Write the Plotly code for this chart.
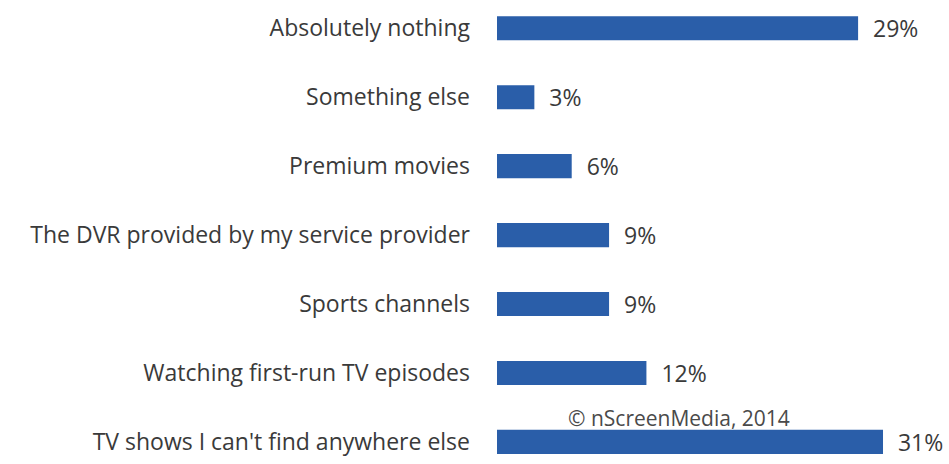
import plotly.graph_objects as go

# Survey answers, listed top to bottom
categories = [
    "Absolutely nothing",
    "Something else",
    "Premium movies",
    "The DVR provided by my service provider",
    "Sports channels",
    "Watching first-run TV episodes",
    "TV shows I can't find anywhere else",
]
shares = [29, 3, 6, 9, 9, 12, 31]
credit = "© nScreenMedia, 2014"

BAR_BLUE = "#2a5ea9"
TEXT_GREY = "#3a3a3a"
FONT = "Open Sans"

fig = go.Figure(
    go.Bar(
        x=shares,
        y=categories,
        orientation="h",
        marker=dict(color=BAR_BLUE, line=dict(width=0)),
        texttemplate="\u00a0\u00a0%{x}%",
        textposition="outside",
        constraintext="none",
        textfont=dict(family=FONT, size=23, color=TEXT_GREY),
        cliponaxis=False,
        hoverinfo="skip",
    )
)

fig.update_layout(
    width=949,
    height=464,
    margin=dict(l=497, r=0, t=0, b=0),
    paper_bgcolor="white",
    plot_bgcolor="white",
    bargap=0.65,
    showlegend=False,
    xaxis=dict(
        range=[0, 36.3],
        visible=False,
        showgrid=False,
        zeroline=False,
    ),
    yaxis=dict(
        type="category",
        categoryorder="array",
        categoryarray=categories,
        range=[6.32, -0.41],
        showgrid=False,
        zeroline=False,
        showline=False,
        ticks="",
        ticklabelstandoff=26,
        tickfont=dict(family=FONT, size=23, color=TEXT_GREY),
    ),
    annotations=[
        dict(
            text=credit,
            xref="paper",
            yref="paper",
            x=0.153,
            y=0.099,
            xanchor="left",
            yanchor="middle",
            showarrow=False,
            font=dict(family=FONT, size=21, color="#4a4a4a"),
        )
    ],
)

fig.write_html("out.html")
